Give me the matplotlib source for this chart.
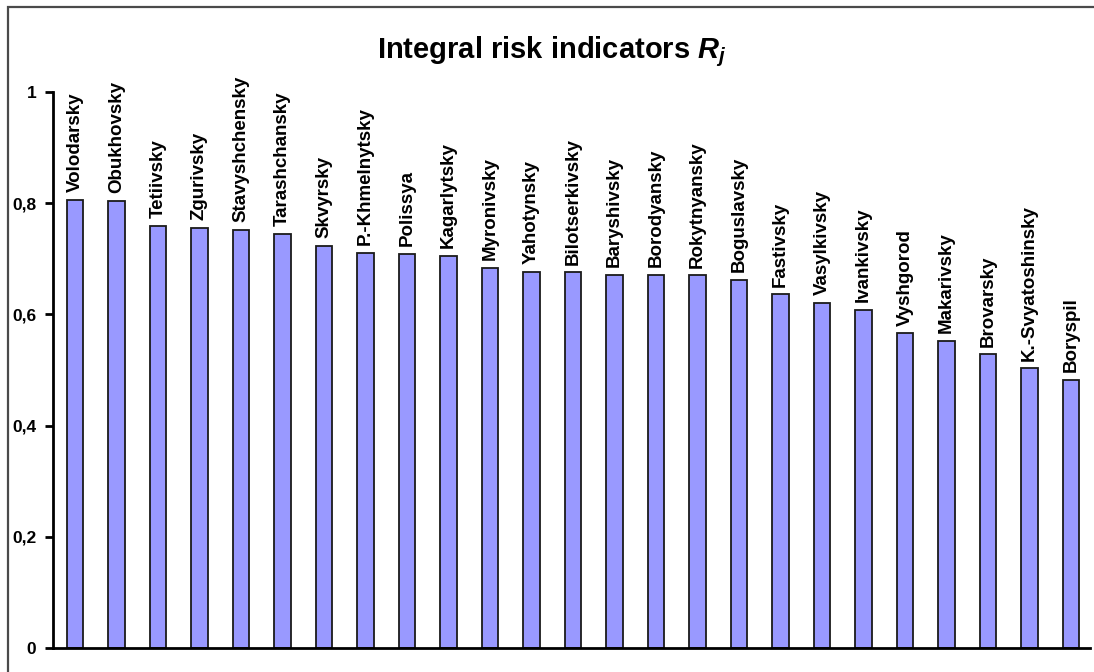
import matplotlib
matplotlib.use("Agg")
import matplotlib.pyplot as plt
from matplotlib.patches import Rectangle

# districts and their integral risk indicator values
districts = ["Volodarsky", "Obukhovsky", "Tetiivsky", "Zgurivsky", "Stavyshchensky",
             "Tarashchansky", "Skvyrsky", "P.-Khmelnytsky", "Polissya", "Kagarlytsky",
             "Myronivsky", "Yahotynsky", "Bilotserkivsky", "Baryshivsky", "Borodyansky",
             "Rokytnyansky", "Boguslavsky", "Fastivsky", "Vasylkivsky", "Ivankivsky",
             "Vyshgorod", "Makarivsky", "Brovarsky", "K.-Svyatoshinsky", "Boryspil"]
risk = [0.806, 0.804, 0.759, 0.756, 0.752,
        0.745, 0.723, 0.711, 0.709, 0.705,
        0.684, 0.677, 0.676, 0.671, 0.671,
        0.670, 0.662, 0.636, 0.621, 0.608,
        0.566, 0.552, 0.528, 0.503, 0.482]
yticks = [0, 0.2, 0.4, 0.6, 0.8, 1]
ytick_labels = ["0", "0,2", "0,4", "0,6", "0,8", "1"]

plt.rcParams['font.family'] = ['Liberation Sans', 'DejaVu Sans']
plt.rcParams['mathtext.fontset'] = 'custom'
plt.rcParams['mathtext.it'] = 'Liberation Sans:bold:italic'
plt.rcParams['mathtext.rm'] = 'Liberation Sans:bold'

fig = plt.figure(figsize=(10.94, 6.72), dpi=100)
W, H = 1094, 672
ax = fig.add_axes([53 / W, 1 - 648 / H, (1090 - 53) / W, (648 - 92) / H])

x = list(range(len(districts)))
ax.bar(x, risk, width=0.40, color="#9999FF", edgecolor="#1a1a1a", linewidth=1.3)

for i, (name, v) in enumerate(zip(districts, risk)):
    ax.annotate(name, (i, v), xytext=(0, 5.5), textcoords="offset points",
                rotation=90, ha="center", va="bottom", fontsize=13.5,
                fontweight="bold", annotation_clip=False)

ax.set_xlim(-0.53, 24.46)
ax.set_ylim(0, 1)
ax.set_xticks([])
ax.set_yticks(yticks)
ax.set_yticklabels(ytick_labels, fontsize=12.5, fontweight="bold")
ax.tick_params(axis="y", direction="out", length=6, width=2, pad=6)

for s in ["top", "right"]:
    ax.spines[s].set_visible(False)
for s in ["left", "bottom"]:
    ax.spines[s].set_linewidth(2)
    ax.spines[s].set_color("black")

fig.text(552 / W, 1 - 52 / H, r"Integral risk indicators $R_j$",
         ha="center", va="center", fontsize=21, fontweight="bold")

# outer chart frame (runs off the right and bottom edges)
fig.patches.append(Rectangle((8 / W, -0.1), 1.2, 1.1 - 7 / H, transform=fig.transFigure,
                             fill=False, edgecolor="#4a4a4a", linewidth=1.6))

fig.savefig("out.png", dpi=100)
